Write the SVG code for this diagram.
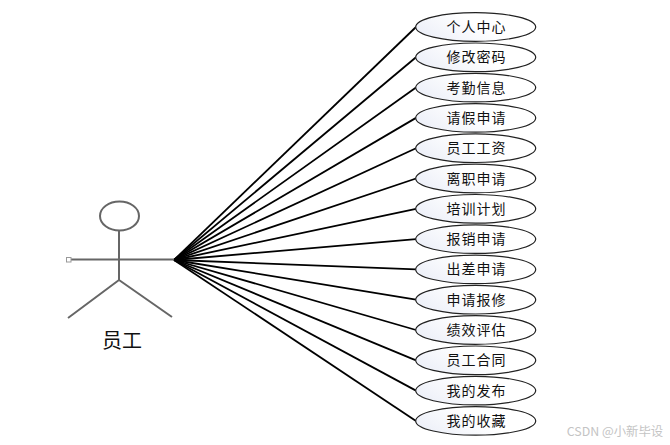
<svg xmlns="http://www.w3.org/2000/svg" width="670" height="445" viewBox="0 0 670 445">
<style>
text{font-family:"Noto Sans CJK SC","Liberation Sans",sans-serif;text-anchor:middle}
.uc ellipse{fill:url(#g);stroke:#222;stroke-width:1.2}
.uc text{font-size:14px;letter-spacing:1px;fill:#111}
.c line{stroke:#000;stroke-width:1.8}
.a{stroke:#666;fill:none;stroke-width:2}
</style>
<defs><linearGradient id="g" x1="0" y1="0.7" x2="1" y2="0.3"><stop offset="0" stop-color="#eceff8"/><stop offset="0.55" stop-color="#fff"/></linearGradient></defs>
<rect width="670" height="445" fill="#fff"/>
<g id="connectors" class="c">
<line x1="174" y1="260" x2="416" y2="27"/>
<line x1="174" y1="260" x2="416" y2="57.300"/>
<line x1="174" y1="260" x2="416" y2="87.600"/>
<line x1="174" y1="260" x2="416" y2="117.900"/>
<line x1="174" y1="260" x2="416" y2="148.200"/>
<line x1="174" y1="260" x2="416" y2="178.500"/>
<line x1="174" y1="260" x2="416" y2="208.800"/>
<line x1="174" y1="260" x2="416" y2="239.100"/>
<line x1="174" y1="260" x2="416" y2="269.400"/>
<line x1="174" y1="260" x2="416" y2="299.700"/>
<line x1="174" y1="260" x2="416" y2="330"/>
<line x1="174" y1="260" x2="416" y2="360.300"/>
<line x1="174" y1="260" x2="416" y2="390.600"/>
<line x1="174" y1="260" x2="416" y2="420.900"/>
</g>
<g id="actor">
<ellipse class="a" cx="119.500" cy="216" rx="19.500" ry="14.500"/>
<path class="a" d="M119 231V280M71 259.500H174M119 280L68 318M119 280L172 317"/>
<rect x="66.500" y="257.500" width="4.500" height="4.500" fill="#fff" stroke="#999"/>
<text x="122" y="348" font-size="20" fill="#111">员工</text>
</g>
<g id="uc1" class="uc"><ellipse cx="475.700" cy="27" rx="60" ry="14.300"/><text x="476.500" y="32">个人中心</text></g>
<g id="uc2" class="uc"><ellipse cx="475.700" cy="57.300" rx="60" ry="14.300"/><text x="476.500" y="62.300">修改密码</text></g>
<g id="uc3" class="uc"><ellipse cx="475.700" cy="87.600" rx="60" ry="14.300"/><text x="476.500" y="92.600">考勤信息</text></g>
<g id="uc4" class="uc"><ellipse cx="475.700" cy="117.900" rx="60" ry="14.300"/><text x="476.500" y="122.900">请假申请</text></g>
<g id="uc5" class="uc"><ellipse cx="475.700" cy="148.200" rx="60" ry="14.300"/><text x="476.500" y="153.200">员工工资</text></g>
<g id="uc6" class="uc"><ellipse cx="475.700" cy="178.500" rx="60" ry="14.300"/><text x="476.500" y="183.500">离职申请</text></g>
<g id="uc7" class="uc"><ellipse cx="475.700" cy="208.800" rx="60" ry="14.300"/><text x="476.500" y="213.800">培训计划</text></g>
<g id="uc8" class="uc"><ellipse cx="475.700" cy="239.100" rx="60" ry="14.300"/><text x="476.500" y="244.100">报销申请</text></g>
<g id="uc9" class="uc"><ellipse cx="475.700" cy="269.400" rx="60" ry="14.300"/><text x="476.500" y="274.400">出差申请</text></g>
<g id="uc10" class="uc"><ellipse cx="475.700" cy="299.700" rx="60" ry="14.300"/><text x="476.500" y="304.700">申请报修</text></g>
<g id="uc11" class="uc"><ellipse cx="475.700" cy="330" rx="60" ry="14.300"/><text x="476.500" y="335">绩效评估</text></g>
<g id="uc12" class="uc"><ellipse cx="475.700" cy="360.300" rx="60" ry="14.300"/><text x="476.500" y="365.300">员工合同</text></g>
<g id="uc13" class="uc"><ellipse cx="475.700" cy="390.600" rx="60" ry="14.300"/><text x="476.500" y="395.600">我的发布</text></g>
<g id="uc14" class="uc"><ellipse cx="475.700" cy="420.900" rx="60" ry="14.300"/><text x="476.500" y="425.900">我的收藏</text></g>
<text x="615" y="436" font-size="12.400" fill="#c4c4c4">CSDN @小新毕设</text>
</svg>
